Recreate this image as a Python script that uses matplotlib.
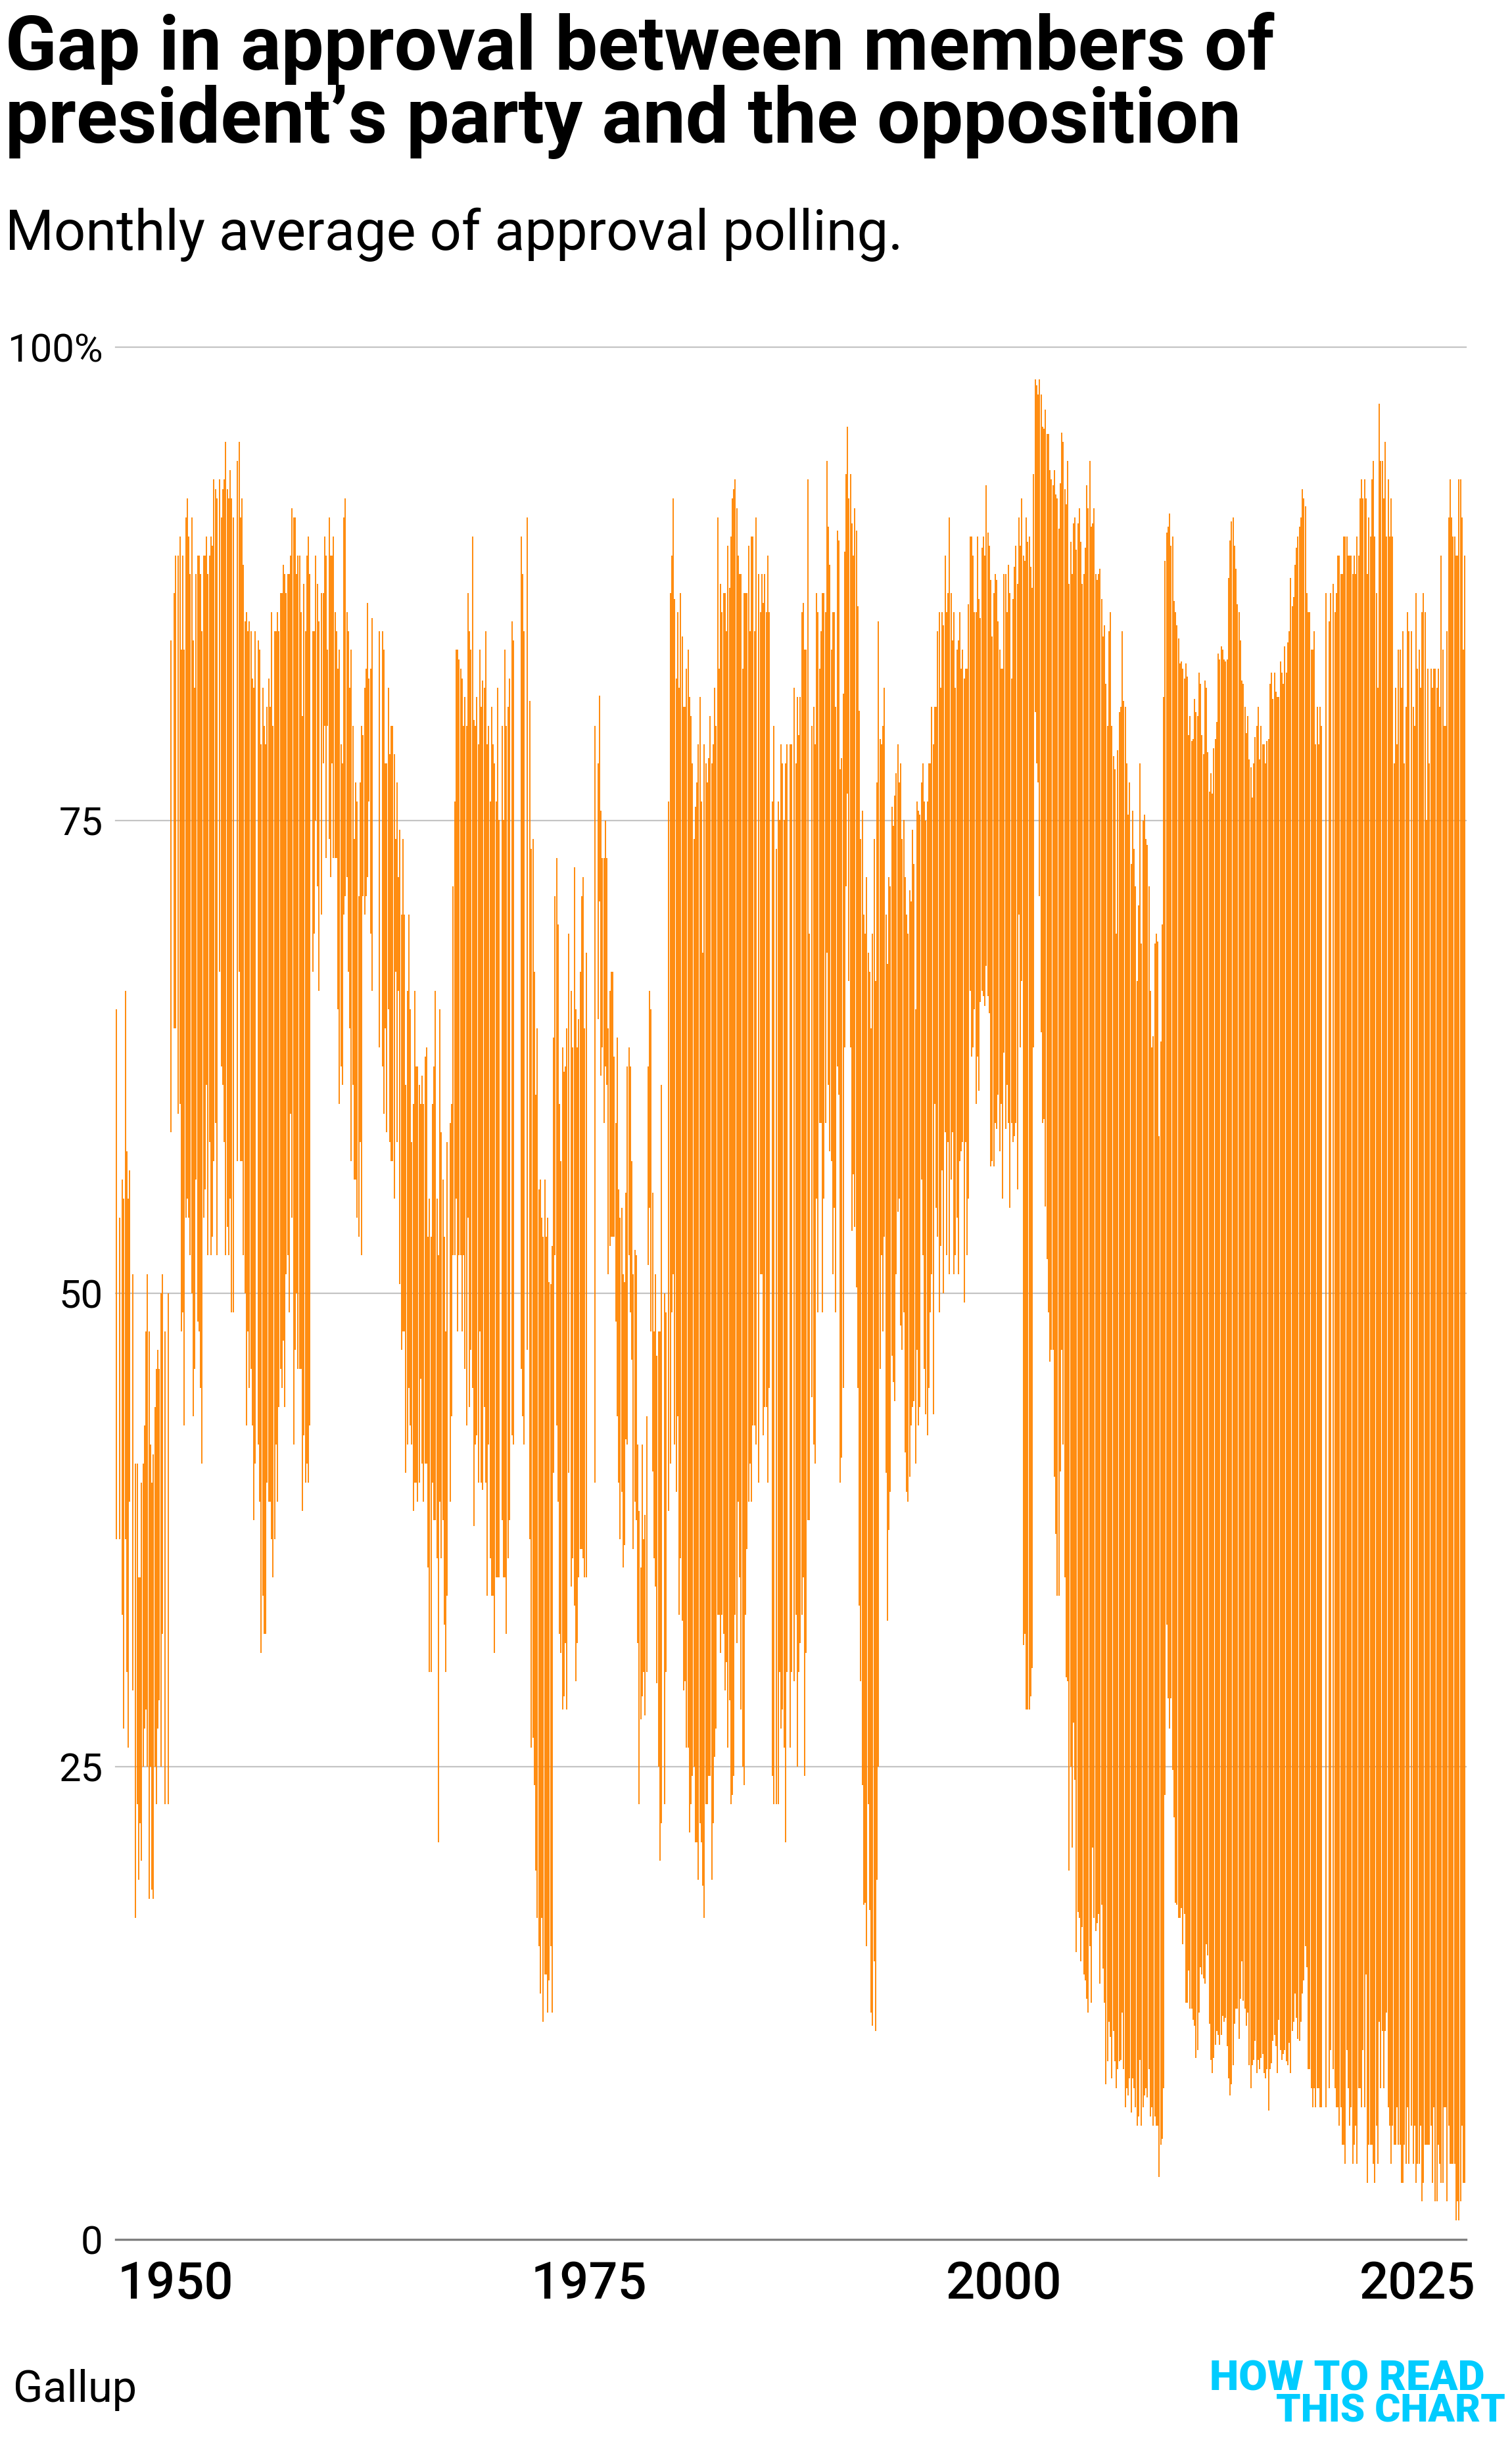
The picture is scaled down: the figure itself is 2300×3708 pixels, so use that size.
import numpy as np
import matplotlib
matplotlib.use("Agg")
import matplotlib.pyplot as plt

N = None

TITLE = ["Gap in approval between members of", "president\u2019s party and the opposition"]
SUBTITLE = "Monthly average of approval polling."
SOURCE = "Gallup"
LOGO = ["HOW TO READ", "THIS CHART"]
Y_TICKS = [0, 25, 50, 75, 100]
Y_LABELS = ["0", "25", "50", "75", "100%"]
X_LABELS = ["1950", "1975", "2000", "2025"]
X_TICK_BANDS = [40.5, 320.5, 601.3, 881.3]

# approval among the president's party (top of each bar) and the opposition (bottom)
TOP_1 = [65,N,54,N,56,55,66,57.5,55,56.5,
         N,51,N,41,41,35,35,40,41,43,
         48,51,48,42,40,41.5,44,46,47,46,
         50,51,N,48,N,50,N]
BOT_1 = [37,N,37,N,33,27,37,30,26,39,
         N,29,N,17,23,19,22,20,25,27,
         28,25,18,25,18.5,18,25,23,27,28.5,
         25,32,N,23,N,23,N]

TOP_2 = [84.5,N,87,89,N,89,90,84,89,84,
         91,92,90,88,91,84.5,82,88,89,89,
         88,85,89,89,90,88,89,90,89.5,93,
         92.5,92,N,93,91,92.5,93,95,92.5,92,
         93.5,92,91,N,N,94,95,91,92,88.5,
         85.5,86,85,85.5,85,82.5,82,85,N,84.5,
         84,79,82,80,79,81,82.5,81,86,80,
         85,85,86,85,87,87,88.5,88,87,88,
         88,89,91.5,91,91,88,89,89,86,80.5,
         87.5,85,89,90,88,N,85,85,89,87.5,
         85.5,N,87,87,90,89,84,91,89,89,
         90,86,85,83,84,79,78,91,92,86,
         85,82,84,80,74,77,76,71,77,80,
         79.5,82,83,86.5,82.5,83,85.7,N,N,N,
         N,85,N,85,84,78,78,82,78.5,80,
         80,78.5,74,77,72,74.5,70,74,70,61,
         66,70,65,58,60,66,62,62,61,60,
         61.5,60,62.5,63,53,55,53,60,62,66,
         55,52,65,58.5,56,53,48,58,N,59,
         60,71.5,76,84,84,83.5,83,82.5,80,81.5,
         80,87,85,84,90,80.3,80,81.5,79,84,
         81,82.4,82,85,79,80,76,81,79,78,
         76,82,75,N,80,75,84,80,81,82.5,
         N,85.5,84.5,N,N,N,N,90,88,85,N]
BOT_2 = [58.5,N,64,64,N,59.5,60,48,49,43,
         54,55,54,52,50,43.5,46,56,48.5,48,
         45,41,54,55.5,61,52,58,52,53,57,
         59,52,N,67,62,61,58,52,53.5,52,
         55,49,49,N,N,57,67,57,57,52,
         50,43,48,45,46,43,38,41,N,42,
         39,31,34,32,32,40,39,39,37,35,
         37,42,39,44,46,45,47.5,44,51,52,
         49,59.5,54,42,47,50,46,46,46,38.5,
         42.5,40,41,40,43,N,67,69,75,71.5,
         66,N,70,78,80,73,80,74,72,78,
         73,73,73,65,60,62,61,70,71,72,
         67,64,57,61,56,56,54,53,58,52,
         71,70,71,72,76,69,66,N,N,N,
         N,63,N,62,59.5,64,58.5,65,58,57,
         57,55,67,58,66,50.5,47,48,48,40.5,
         42,45,43,42,38.5,40,40,39,40,45.5,
         41,39,41,41,35.5,30,30,40,38,38,
         36,21,39,36,38,32.5,30,34,N,39,
         43.5,52,52,55,48,52,52,48,52,46,
         43,54,44,47,45,37.7,42,42.5,40,48,
         40,39.6,44,40,34,42,36,34,34,31,
         35,35,35,N,38,35,35,32,36,38,
         N,42.5,42,N,N,N,N,46,43.5,42,N]

TOP_3 = [91,N,81.3,73.5,74,67,60.5,64,55.5,56,
         54,53,56,53,54,50.6,50.5,52.5,63.5,71,
         73,69.5,60,57,63,61.7,62,64,69,N,
         66,63,72.5,65,63,64.5,67,71,72,64,
         68,N,N,N,N,N,80,N,78,81.6,
         75.5,73,73,75,73,64,66,67,67,62.5,
         59,63.5,55.5,54,54.5,51,50.6,55.3,62,63,
         62,57,51,52.3,52,42,38.5,35.5,42,37,
         38.3,43.5,62,66,65,55.3,48,51,46.7,48,
         48,61,N,50,49,N,76,87,89,92,
         86.7,82.5,86,82,87,84.7,81,81,83,84,
         81.5,80.5,78,74,75.7,77,79,81.5,76,68,
         79,78,77,78.3,80.5,78,79,82,80,91,
         83,87.5,86,87,87,85,89.5,87.3,90,92,
         92.5,93,91.5,89,88,88,83,87,87,87,
         89.5,85,90,90,85,91,N,88,86,88,
         86.5,88,86,89,86,N,76,80,N,73.5,
         76,75,79,78,75,78,79,N,79,79,
         N,82,78,81.5,79.5,81.5,86,86.5,84,84,
         93,69,N,80,81,79,87,86,83,85,
         87,87,86,94,90.5,88.5,84,86,86,81,
         90.3,89.8,77.7,78.3,81.7,89.2,93.3,95.8,92,93.3,
         90.7,89,91.5,90.3,86.3,80.8,74,75.5,70,69,
         72,68,67,64,69,74,66.5,77,85.5,79.3,
         79,80,82,70,67.4,72,71.5,75.7,74.7,76.3,
         77.5,79,77,78,74,75,72,70,69,71.3,
         70.7,74.5,72.7,65,76,75.5,75.3,77,78,76,
         75,76,78,78,81,79,81,81,85,86,
         82,86,85.3,89,86,87,91,87,84.5,86,
         82,84,84.5,86,83,84,82.5,83,83,86.4,
         90,90,89,86,86,90,86.7,85.7,89.4,90,
         89,92.7,90.2,89.5,87.7,84.7,87,88,87.7,85.5,
         84,83,83,88,88,86,88.5,87,82.5,86.7,
         88.4,89.5,87.5,91,89.5,92,89,88.7,91,89.7,
         90,88.4,87.3,93.3,98.3,98,97.5,98.3,97.5,95.8,
         95.7,96.7,95.4,95.4,93.5,93]
BOT_3 = [47,N,37,26,26.5,24,19.5,17,15.5,13,
         17,11.5,14,14,12,13.7,15.5,12,40.5,52,
         43,39,32,31,28,28.7,31.5,28,40.5,N,
         34.5,36,33.5,29.5,31.5,35,36.5,36.5,36,35,
         35,N,N,N,N,N,40,N,64.5,70.7,
         61.5,63,59,62,61,51,52.5,53,53,53,
         48.5,43.5,40,37,39.5,35.5,36.7,42.3,42,52,
         49,46.5,36.5,39,38,31.5,23,27.5,28.7,30,
         27.7,30,51.5,54.5,48,40.6,36,34.5,29.4,25,
         20,22,N,23,30,N,38.5,41,49,51,
         42,39.5,43.5,33,36,32.7,29,29.5,26,26,
         21.5,23,24.5,25,21,21,19,22,21,18.7,
         17,23,23,24.5,24.5,19,22,25.5,27,33,
         33,31,33,32,29,30.5,26,28.5,23,23.5,
         24.5,33,31.5,39,35,28,25,24,33,36.5,
         39,41,39,43,43,42,N,40,51,51,
         42.5,44,44,40,45,N,24.5,23,N,23,
         23,30,27,28,26,21,30,N,26,30,
         N,29.5,33,25,30,31.5,33,35,24.5,31,
         38,38,N,44.5,42,41,55,49,59,59,
         49,55,59,68,61,57.5,57,51,54.5,49,
         62,60.5,40,41.3,45,63,71.5,76.4,66.5,63,
         53.3,56.3,53.5,50.3,45,33.5,29.5,24,17.7,17.8,
         15.5,23,17.4,12,11.3,14.7,11,19,25,46,
         52,48,53,40.5,32.7,37.5,39.5,46.7,45.3,44.3,
         51,54.3,55,48.3,47,49,41.6,39.5,39,40.3,
         43,44,44.3,41,47,43,44,56,52,46,
         43.6,42.5,45,49,51,43.6,60,54.5,53,49,
         52.5,56.5,50,58.5,52,58,51,56,58.5,51,
         52,54,51,57,57.5,58,49.5,58,52,55,
         66,62.5,63,65,60,62.5,60.7,65.4,66,65.7,
         65.2,67.3,65.7,64.8,56.7,57,56.7,59,58.7,60.5,
         57.5,60,55,62.7,58.7,61,59,54.5,59,58,
         58.3,59,55.5,70,63,66.5,31.4,32,28,28,
         28,28.7,30.2,63,80.7,78,77,71,63.8,59,
         59.2,54.6,51.8,49,46.4,47]

TOP_4 = [92.7,93.5,92.2,92,90.4,92.8,95.5,95,92.5,91.7,
         94,87.5,89.7,88,90.7,91,89.3,90.7,91.5,89.7,
         87.5,88,89.4,92.7,91.5,94,90.5,90.7,91.5,88,
         87.7,88,88.3,86.7,84.7,85.3,82.2,80,85,86,
         80,78.4,77.7,69,78.7,80.7,81,85,81.3,81,
         78,75.3,77,72.7,75.5,73.5,71.5,66.5,70.5,78,
         68.5,75,75.3,74,73.7,71.5,66,63,63.6,68.5,
         69,68.6,58.3,63.3,69.5,81.5,88.7,90.2,90.5,91.2,
         89.5,90,86.6,86,85.3,84.6,83.3,83.4,83,82.5,
         83.3,82.6,79.5,80.5,79.2,79.3,81.4,80.7,80.5,82.8,
         82.2,79.5,78.5,82.4,82,78.6,76.5,77.5,76.4,78.8,
         79.3,80.2,83.8,83.5,84.2,84,83.5,83.4,83.5,87.8,
         89.8,90.8,91,89.5,88.3,86.4,86,84.5,82.4,82.2,
         81,79.6,80.5,78.2,77.8,76.2,78,79.4,80,81,
         78.2,80,79,79,78,79.2,79.3,82.2,82.8,81.4,
         82.8,81.8,81.5,81.5,83.4,82.8,82.2,84.2,82.8,84.4,
         85,87.8,86.3,86.8,88.5,89.4,90,90.5,91,92.5,
         92,91.6,87,86,86,84,84,85,79,81,
         79,81,80,N,N,87,N,85.5,87,N,
         87.5,86,87,89,89,88,88,90,90,90,
         89,89,89,88,89,88,90,89,92,93,
         92,93,92,88,91,90,93,94,90,87,
         82,97,94,94,92,95,90,93,90,92,
         90,78,82,79,84,84,82,85,78,81,
         86,85,N,
         85,81,80,87,83,84,82,86,87,86,
         75,83,78,83,82,83,83,82,83,81,
         89,84,80,80,85,91,93,91,90,90,
         89,89,93,93,91,84,89]
BOT_4 = [47,40.3,37.3,34,34,40.6,47,42,35,29.7,
         29.5,19.5,25,20.7,27.3,24.3,15.2,17.3,17,14.7,
         16.5,14,13.7,12.7,12,15.5,12.5,20.7,17,16.3,
         16.7,17.2,13.5,17.7,14.3,12.5,8.2,9.4,11.5,10.7,
         8.5,11,9.4,8,9,9.4,9.5,12,9,7,
         8,7.6,8.5,6.7,8.5,8,7,6,6.5,9.5,
         6,7,7.6,8,7.5,9,6.5,7,6,6.5,
         6,6,3.3,5,5.3,8,23.5,32.5,28.6,27,
         28.6,24.8,22.3,17.8,17.7,17,17,17.5,15.6,17.2,
         12.5,12.5,14.2,12.2,12.2,11.6,11.3,9.6,10,12,
         14.4,14,13.8,13.5,15.6,15,11.4,9.5,8.8,9.6,
         10.3,11,10.8,10.3,10.8,11.8,11.5,11.7,10.2,8.5,
         7.6,8.2,9.2,11.4,12.2,12.2,10.6,12.7,14.7,12.6,
         12.2,11.3,12,9.2,8,9.2,9.5,10.5,8.8,9.5,
         9,9.6,9.8,8.8,8.5,9,6.8,9,9.3,10.5,
         10.8,10.2,8.8,11.6,10,9.5,9.8,10,9.4,9.2,
         10.4,8.8,11,11.5,13,11.7,10.6,10.5,11.5,13,
         13.7,15.5,14.4,9,9,8,7,8,7,8,
         8,7,7,N,N,7,N,8,10,N,
         9,8,7,7,6,7,5,5,4,10,
         8,6,7,4,5,6,4,8,8,7,
         10,7,14,3,5,5,5,4,3,6,
         4,11.5,8,11,8,11,12,7,6,4,
         6,5,5,7,5,5,3,3,5,4,
         7,4,N,
         6,4,6,3,4,4,6,2,3,5,
         5,5,5,6,3,7,2,2,5,4,
         3,3,7,7,2,6,4,4,4,4,
         1,2,1,2,6,3,3]

top = np.array(TOP_1 + TOP_2 + TOP_3 + TOP_4, dtype=float)
bot = np.array(BOT_1 + BOT_2 + BOT_3 + BOT_4, dtype=float)
bands = np.arange(len(top))
valid = ~np.isnan(top)

FONT = "Roboto"

W, H = 2300, 3708
fig = plt.figure(figsize=(W / 100, H / 100), dpi=100, facecolor="white")
def px(x, y):
    return x / W, 1 - y / H

L, R, T, B = 176, 2229.5, 528, 3406
ax = fig.add_axes([L / W, 1 - B / H, (R - L) / W, (B - T) / H])
ax.set_xlim(0, len(top))
ax.set_ylim(0, 100)
for s in ax.spines.values():
    s.set_visible(False)

ax.set_axisbelow(True)
for v in Y_TICKS[1:]:
    ax.axhline(v, color="#c4c4c4", lw=1.6, zorder=1, clip_on=False)
ax.axhline(0, color="#808080", lw=2.4, zorder=1, clip_on=False)

ax.bar(bands[valid] + 0.5, top[valid] - bot[valid], bottom=bot[valid], width=0.89,
       color="#ff8400", alpha=0.93, linewidth=0, zorder=2)

ax.set_yticks(Y_TICKS)
ax.set_yticklabels(Y_LABELS, family=FONT, fontweight="normal", fontsize=43, color="black")
ax.set_xticks(X_TICK_BANDS)
ax.set_xticklabels(X_LABELS, family=FONT, fontweight="medium", fontsize=56, color="black")
ax.tick_params(axis="y", length=0, pad=14)
ax.tick_params(axis="x", length=0, pad=22)

fig.text(*px(8, 106), TITLE[0], family=FONT, fontweight="bold", fontsize=83, va="baseline", ha="left")
fig.text(*px(8, 217), TITLE[1], family=FONT, fontweight="bold", fontsize=83.8, va="baseline", ha="left")
fig.text(*px(8, 380), SUBTITLE, family=FONT, fontsize=61, va="baseline", ha="left")
fig.text(*px(20, 3653), SOURCE, family=FONT, fontsize=48, va="baseline", ha="left")
fig.text(*px(2259, 3636), LOGO[0], family=FONT, fontweight="black", fontsize=45.5, color="#00ccff", va="baseline", ha="right")
fig.text(*px(2290, 3684), LOGO[1], family=FONT, fontweight="black", fontsize=43, color="#00ccff", va="baseline", ha="right")

fig.savefig("out.png", dpi=100, facecolor="white")
